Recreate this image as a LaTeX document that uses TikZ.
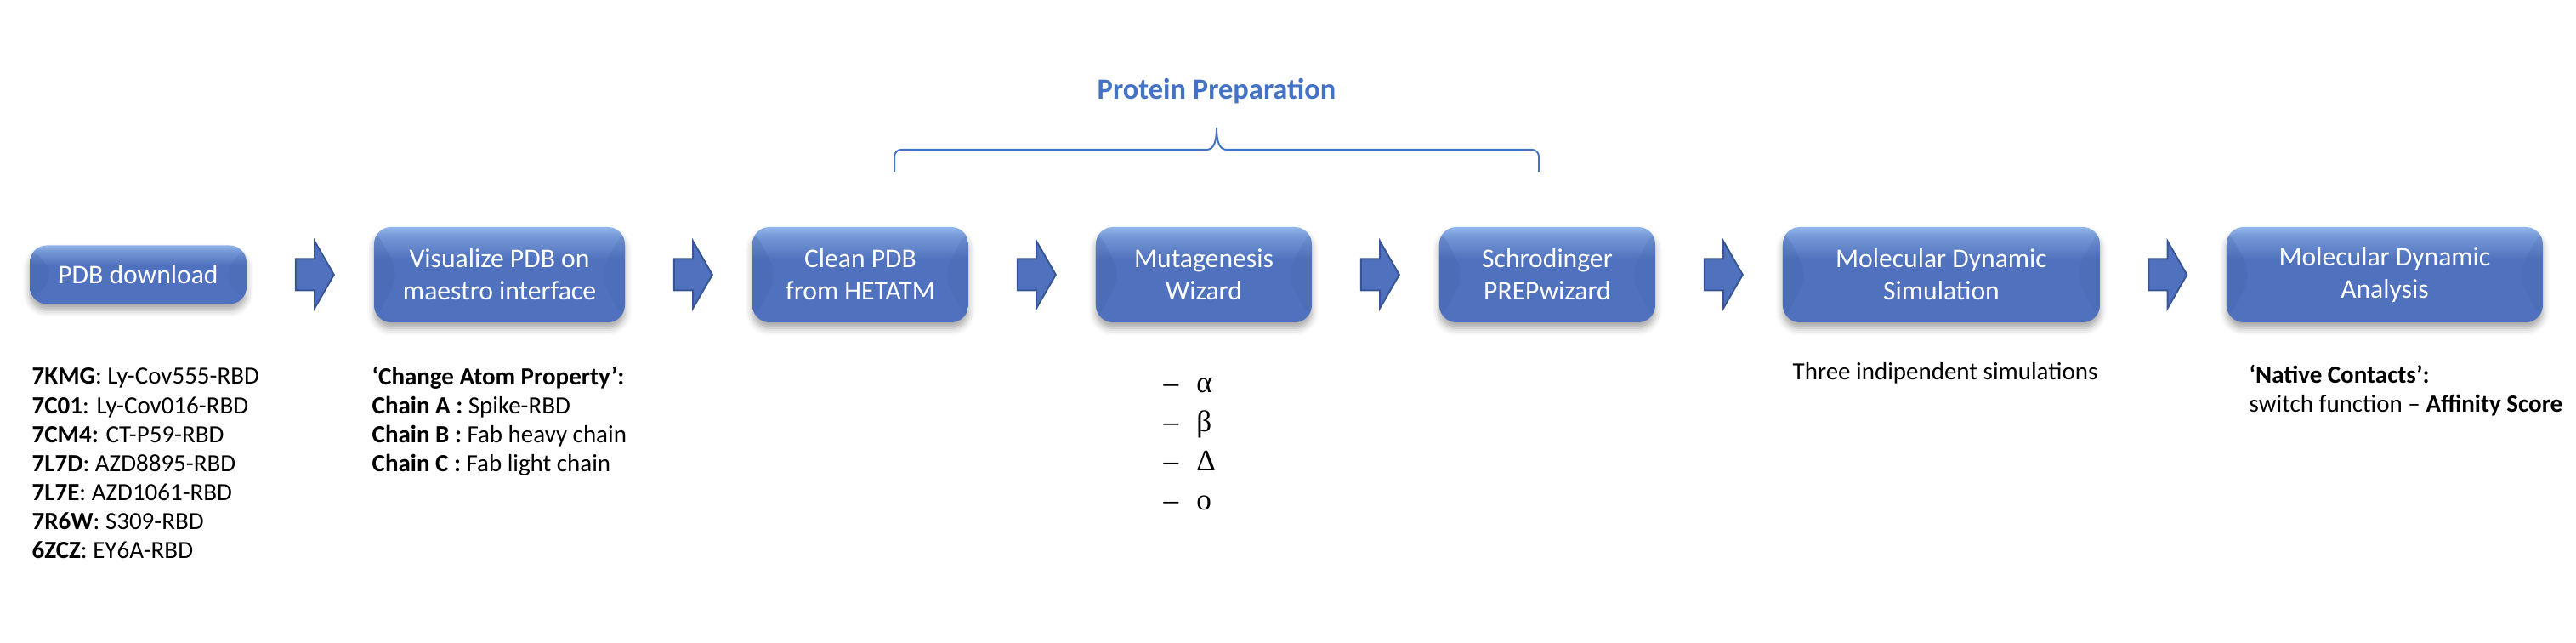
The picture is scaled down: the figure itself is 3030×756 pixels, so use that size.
\documentclass[tikz,border=0pt]{standalone}
\usepackage{fontspec}
\setmainfont{Carlito}
\newfontfamily\greekfont{Liberation Serif}
\usetikzlibrary{calc,positioning,shapes.arrows,shadows.blur}
\definecolor{b1d}{RGB}{80,114,190}
\definecolor{b1l}{RGB}{146,182,234}
\definecolor{b1e}{RGB}{56,86,150}
\definecolor{t1d}{RGB}{68,114,196}
\pgfdeclareverticalshading{bevel}{100bp}{color(0bp)=(b1d); color(25bp)=(b1d); color(58bp)=(b1d); color(70bp)=(b1l!55!b1d); color(75bp)=(b1l); color(100bp)=(b1l)}
\tikzset{%
  stagebox/.style = { rounded corners=2mm, shading=bevel, text=white, align=center, minimum height=11.2mm, outer sep=0pt, font=\fontsize{9}{10.8}\selectfont,
    blur shadow={shadow xshift=0mm, shadow yshift=-0.7mm, shadow blur radius=0.8mm, shadow opacity=35},
    path picture={
      \fill[b1e,opacity=0.18] (path picture bounding box.north west) -- ($(path picture bounding box.west)+(30,0)$) -- (path picture bounding box.south west) -- cycle;
      \fill[b1e,opacity=0.12] (path picture bounding box.north east) -- ($(path picture bounding box.east)+(-30,0)$) -- (path picture bounding box.south east) -- cycle;
    } },
  blockarrow/.style = { single arrow, draw=b1e, fill=b1d, line width=0.2mm, minimum height=4.5mm, inner xsep=0pt, inner ysep=1.75mm, single arrow head extend=2.1mm, single arrow tip angle=120 },
  notetext/.style = { anchor=base west, align=left, inner sep=0pt, font=\fontsize{8.25}{9.73}\selectfont },
  grouptitle/.style = { anchor=base, inner sep=0pt, text=t1d, font=\fontsize{9.8}{11}\selectfont\bfseries },
  variant/.style = { anchor=base west, inner sep=0pt, font=\greekfont\fontsize{10}{12}\selectfont },
  pbrace/.style = { draw=t1d, line width=0.2mm }
}

\begin{document}
\begin{tikzpicture}[x=0.1mm,y=0.1mm]

  \useasboundingbox (0,0) rectangle (3030,756);

  % Pipeline
  \node[stagebox, minimum width=25.5mm, minimum height=6.9mm] (pdb) at (162.5,433) {PDB download};
  \node[stagebox, minimum width=29.5mm, right=15mm of pdb] (vis) {Visualize PDB on\\maestro interface};
  \node[stagebox, minimum width=25.4mm, right=15mm of vis] (clean) {Clean PDB\\from HETATM};
  \node[stagebox, minimum width=25.4mm, right=15mm of clean] (mut) {Mutagenesis\\Wizard};
  \node[stagebox, minimum width=25.4mm, right=15mm of mut] (prep) {Schrodinger\\PREPwizard};
  \node[stagebox, minimum width=37.3mm, right=15mm of prep] (mdsim) {Molecular Dynamic\\Simulation};
  \node[stagebox, minimum width=37.2mm, right=14.9mm of mdsim] (mdana) {Molecular Dynamic\\Analysis};

  \foreach \a/\b [count=\i] in {pdb/vis,vis/clean,clean/mut,mut/prep,prep/mdsim,mdsim/mdana} {
    \node[blockarrow] (arr\i) at ($(\a.east)!0.5!(\b.west)$) {};
  }

  % Protein preparation
  \draw[pbrace] (1052,554) -- (1052,572) arc[start angle=180, end angle=90, radius=0.8mm] -- (1419,580)
    .. controls (1428,580) and (1431,590) .. (1431,606)
    .. controls (1431,590) and (1434,580) .. (1443,580) -- (1802,580) arc[start angle=90, end angle=0, radius=0.8mm] -- (1810,554);
  \node[grouptitle] (protprep) at (1431,639) {Protein Preparation};

  % Notes (base = last line)
  \node[notetext] (pdbids) at (37,99) {\textbf{7KMG}: Ly-Cov555-RBD\\\textbf{7C01}: Ly-Cov016-RBD\\\textbf{7CM4:} CT-P59-RBD\\\textbf{7L7D}: AZD8895-RBD\\\textbf{7L7E}: AZD1061-RBD\\\textbf{7R6W}: S309-RBD\\\textbf{6ZCZ}: EY6A-RBD};
  \node[notetext] (chains) at (437,201) {\textbf{‘Change Atom Property’:}\\\textbf{Chain A :} Spike-RBD\\\textbf{Chain B :} Fab heavy chain\\\textbf{Chain C :} Fab light chain};

  \foreach \g [count=\i] in {α,β,Δ,ο} {
    \node[variant] (var\i) at (1368,294-46*\i+46) {–\hspace{6pt}\g};
  }

  \node[notetext] (simnote) at (2108,309) {Three indipendent simulations};
  \node[notetext] (nativenote) at (2645,271) {\textbf{‘Native Contacts’:}\\switch function – \textbf{Affinity Score}};

\end{tikzpicture}
\end{document}
